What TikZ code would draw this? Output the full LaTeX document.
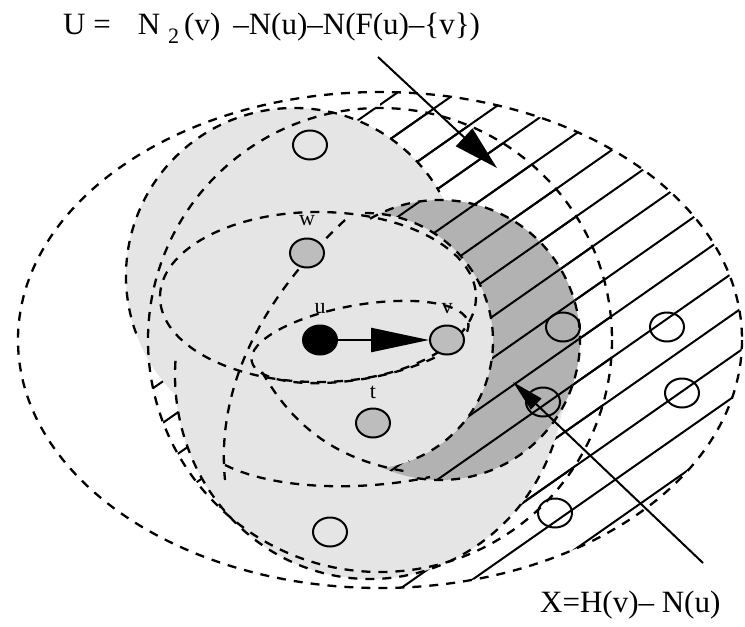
\documentclass[tikz,border=0pt]{standalone}
\usepackage{fontspec}
\setmainfont{Liberation Serif}
\usepackage{tikz}
\usetikzlibrary{arrows.meta, shapes.geometric, positioning}
\definecolor{lightshade}{gray}{0.90}
\definecolor{darkshade}{gray}{0.70}
\definecolor{vertexgrey}{gray}{0.74}
\newcommand{\hatchlines}{%
  \foreach \cc in {-2.2,31.8,...,980}{
    \draw[hatchline] (0,{\cc/cos(35)}) -- (745,{(\cc-745*sin(35))/cos(35)});
  }}

\begin{document}
\begin{tikzpicture}[x=1pt, y=-1pt,
    bound/.style={line width=2.3pt, dash pattern=on 9pt off 8pt},
    hatchline/.style={line width=2pt},
    vertex/.style={ellipse, draw, line width=2pt, minimum width=34pt, minimum height=29pt, inner sep=0pt},
    greyvertex/.style={vertex, fill=vertexgrey},
    lbl/.style={font=\fontsize{22}{24}\selectfont, inner sep=1pt},
    caption/.style={font=\fontsize{31}{34}\selectfont, inner sep=0pt}]
    \useasboundingbox (0,0) rectangle (745,627);
    % hatched part H(v)
    \begin{scope}
        \clip (380,340) ellipse [x radius=362, y radius=248];
        \clip (380,340) circle [radius=232];
        \hatchlines
    \end{scope}
    \begin{scope}
        \clip (380,340) ellipse [x radius=362, y radius=248];
        \clip (380,0) rectangle (745,627);
        \hatchlines
    \end{scope}
    % light grey neighbourhoods
    \fill[lightshade] (294,276) circle [radius=168];
    \begin{scope}
        \clip (0,260) rectangle (745,627);
        \fill[lightshade] (370,375) ellipse [x radius=195, y radius=204];
    \end{scope}
    % dark crescent
    \fill[darkshade] (440,340) circle [radius=140];
    \begin{scope}
        \clip (440,340) circle [radius=140];
        \hatchlines
    \end{scope}
    \fill[lightshade] (365,341) circle [radius=128];
    % dashed boundaries
    \draw[bound] (380,340) ellipse [x radius=362, y radius=248];
    \draw[bound] (380,340) circle [radius=232];
    \draw[bound] (294,276) ++(160:168) arc [start angle=160, end angle=330, radius=168];
    \draw[bound] (370,375) ++(20:195 and 204) arc [start angle=20, end angle=185, x radius=195, y radius=204];
    \draw[bound] (440,340) ++(-120:140) arc [start angle=-120, end angle=100, radius=140];
    \draw[bound] (365,341) ++(-90:128) arc [start angle=-90, end angle=70, radius=128];
    \draw[bound] (318,297) ellipse [x radius=158, y radius=85];
    \draw[bound, rotate around={10:(360,342)}] (360,342) ellipse [x radius=110, y radius=37];
    \draw[bound] (345,220) .. controls (270,290) and (215,380) .. (225,480);
    \draw[bound] (225,465) .. controls (280,492) and (370,490) .. (430,477);
    \draw[bound] (262,372) .. controls (290,420) and (330,460) .. (410,472);
    % vertices
    \node[vertex] (n1) at (310,145) {};
    \node[vertex] (n2) at (563,327) {};
    \node[vertex] (n3) at (667,327) {};
    \node[vertex] (n4) at (682,393) {};
    \node[vertex] (n5) at (543,402) {};
    \node[vertex] (n6) at (555,513) {};
    \node[vertex] (n7) at (330,532) {};
    \node[vertex, fill=black] (u) at (320,340) {};
    \node[greyvertex] (v) at (447,340) {};
    \node[greyvertex] (w) at (307,253) {};
    \node[greyvertex] (t) at (373,423) {};
    \node[lbl, above=11pt of w] (wl) {w};
    \node[lbl, above=10pt of u] (ul) {u};
    \node[lbl, above=10pt of v] (vl) {v};
    \node[lbl, above=8pt of t] (tl) {t};
    \draw[line width=2.4pt, -{Triangle[length=58pt, width=24pt]}] (u) -- (v);
    % pointers to the sets
    \coordinate (Utail) at (378,57);
    \coordinate (Utip) at (497,168);
    \coordinate (Xtail) at (703,563);
    \coordinate (Xtip) at (513,382);
    \draw[line width=2pt, -{Triangle[length=45pt, width=24pt]}] (Utail) -- (Utip);
    \draw[line width=2pt, -{Triangle[length=32pt, width=15pt]}] (Xtail) -- (Xtip);
    \node[caption, anchor=base west] (Ucap) at (63,34)
        {U =\hspace{27pt}N\hspace{8pt}\raisebox{-9pt}{\fontsize{22}{22}\selectfont 2}\hspace{5pt}(v)\hspace{13pt}–N(u)–N(F(u)–\{v\})};
    \node[caption, anchor=base west] (Xcap) at (540,612) {X=H(v)– N(u)};
\end{tikzpicture}
\end{document}
